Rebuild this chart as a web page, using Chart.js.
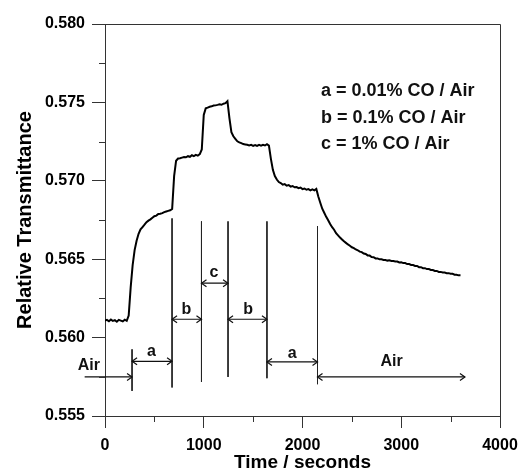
<!DOCTYPE html>
<html>
<head>
    <title>Relative Transmittance vs Time</title>
    <script src="https://cdn.jsdelivr.net/npm/chart.js"></script>
    <style>
        body { margin: 0; background: #fff; }
        #wrap { width: 520px; height: 471px; }
    </style>
</head>
<body>
    <div id="wrap"><canvas id="chart"></canvas></div>

    <script>
        // Data (time in seconds, relative transmittance)
        const time = [
            0, 20, 40, 60, 80, 100, 120, 140, 160, 180, 200, 220, 240, 260, 280, 300, 320, 340, 360, 380,
            400, 420, 440, 460, 480, 500, 520, 540, 560, 580, 600, 620, 640, 660, 680, 700, 720, 740, 760, 780,
            800, 820, 840, 860, 880, 900, 920, 940, 960, 980, 1000, 1020, 1040, 1060, 1080, 1100, 1120, 1140, 1160, 1180,
            1200, 1220, 1240, 1260, 1280, 1300, 1320, 1340, 1360, 1380, 1400, 1420, 1440, 1460, 1480, 1500, 1520, 1540, 1560, 1580,
            1600, 1620, 1640, 1660, 1680, 1700, 1720, 1740, 1760, 1780, 1800, 1820, 1840, 1860, 1880, 1900, 1920, 1940, 1960, 1980,
            2000, 2020, 2040, 2060, 2080, 2100, 2120, 2140, 2160, 2180, 2200, 2220, 2240, 2260, 2280, 2300, 2320, 2340, 2360, 2380,
            2400, 2420, 2440, 2460, 2480, 2500, 2520, 2540, 2560, 2580, 2600, 2620, 2640, 2660, 2680, 2700, 2720, 2740, 2760, 2780,
            2800, 2820, 2840, 2860, 2880, 2900, 2920, 2940, 2960, 2980, 3000, 3020, 3040, 3060, 3080, 3100, 3120, 3140, 3160, 3180,
            3200, 3220, 3240, 3260, 3280, 3300, 3320, 3340, 3360, 3380, 3400, 3420, 3440, 3460, 3480, 3500, 3520, 3540, 3560, 3580,
            3600
        ];
        const transmittance = [
            0.56108, 0.56113, 0.56104, 0.56115, 0.56106, 0.56111, 0.56101, 0.56113, 0.56108, 0.56103, 0.56114, 0.56107, 0.56140, 0.56320, 0.56462, 0.56558, 0.56618, 0.56662, 0.56690, 0.56705,
            0.56720, 0.56736, 0.56746, 0.56754, 0.56764, 0.56774, 0.56778, 0.56788, 0.56790, 0.56794, 0.56800, 0.56804, 0.56808, 0.56812, 0.56820, 0.57030, 0.57128, 0.57142, 0.57144, 0.57148,
            0.57152, 0.57150, 0.57157, 0.57153, 0.57163, 0.57157, 0.57165, 0.57160, 0.57170, 0.57200, 0.57420, 0.57462, 0.57467, 0.57472, 0.57475, 0.57480, 0.57481, 0.57484, 0.57488, 0.57485,
            0.57492, 0.57495, 0.57508, 0.57400, 0.57310, 0.57284, 0.57268, 0.57252, 0.57245, 0.57240, 0.57234, 0.57232, 0.57230, 0.57226, 0.57229, 0.57223, 0.57228, 0.57222, 0.57229, 0.57224,
            0.57229, 0.57225, 0.57233, 0.57224, 0.57140, 0.57070, 0.57030, 0.57008, 0.56992, 0.56986, 0.56975, 0.56979, 0.56969, 0.56973, 0.56963, 0.56967, 0.56959, 0.56960, 0.56953, 0.56957,
            0.56947, 0.56951, 0.56943, 0.56947, 0.56939, 0.56945, 0.56939, 0.56948, 0.56900, 0.56860, 0.56822, 0.56796, 0.56770, 0.56748, 0.56724, 0.56704, 0.56688, 0.56666, 0.56652, 0.56638,
            0.56626, 0.56614, 0.56604, 0.56594, 0.56586, 0.56576, 0.56571, 0.56562, 0.56557, 0.56548, 0.56545, 0.56536, 0.56533, 0.56524, 0.56523, 0.56514, 0.56513, 0.56505, 0.56505, 0.56499,
            0.56499, 0.56495, 0.56495, 0.56491, 0.56493, 0.56489, 0.56489, 0.56485, 0.56485, 0.56479, 0.56481, 0.56475, 0.56475, 0.56469, 0.56469, 0.56463, 0.56463, 0.56457, 0.56457, 0.56449,
            0.56449, 0.56443, 0.56443, 0.56437, 0.56437, 0.56431, 0.56431, 0.56425, 0.56425, 0.56419, 0.56419, 0.56415, 0.56415, 0.56411, 0.56411, 0.56407, 0.56407, 0.56401, 0.56401, 0.56397,
            0.56397
        ];

        // Vertical lines where the gas was switched
        const switchTime = [274, 679, 977, 1246, 1640, 2152];
        const switchTop = [0.55925, 0.56760, 0.56741, 0.56741, 0.56741, 0.56711];
        const switchBottom = [0.55660, 0.55682, 0.55717, 0.55749, 0.55741, 0.55703];

        // Arrows between the switches and their labels
        const arrowFrom = [-206, 274, 679, 977, 1246, 1640, 2152];
        const arrowTo = [274, 679, 977, 1246, 1640, 2152, 3645];
        const arrowLevel = [0.55749, 0.55849, 0.56117, 0.56347, 0.56117, 0.55845, 0.55749];
        const arrowBoth = [false, true, true, true, true, true, true];
        const arrowText = ['Air', 'a', 'b', 'c', 'b', 'a', 'Air'];
        const arrowTextTime = [-163, 470, 825, 1104, 1449, 1895, 2902];
        const arrowTextLevel = [0.55819, 0.55908, 0.56176, 0.56414, 0.56176, 0.55900, 0.55845];

        // Key text
        const keyLines = ['a = 0.01% CO / Air', 'b = 0.1% CO / Air', 'c = 1% CO / Air'];

        // Minor tick positions
        const xMinor = [500, 1500, 2500, 3500];
        const yMinor = [0.5575, 0.5625, 0.5675, 0.5725, 0.5775];

        const fontName = '"Liberation Sans", Arial, sans-serif';
        const axisColor = '#333';

        const curvePoints = time.map((t, i) => ({ x: t, y: transmittance[i] }));

        const switchPoints = [];
        switchTime.forEach((t, i) => {
            switchPoints.push({ x: t, y: switchTop[i] });
            switchPoints.push({ x: t, y: switchBottom[i] });
            switchPoints.push({ x: t, y: null });
        });

        const arrowPoints = [];
        arrowFrom.forEach((t, i) => {
            arrowPoints.push({ x: t, y: arrowLevel[i] });
            arrowPoints.push({ x: arrowTo[i], y: arrowLevel[i] });
            arrowPoints.push({ x: arrowTo[i], y: null });
        });

        // frame on top/right, minor ticks, arrow heads and texts
        const extras = {
            id: 'extras',
            afterDatasetsDraw(chart) {
                const ctx = chart.ctx;
                const xs = chart.scales.x;
                const ys = chart.scales.y;
                const area = chart.chartArea;

                ctx.save();
                ctx.strokeStyle = axisColor;
                ctx.lineWidth = 1;
                ctx.beginPath();
                ctx.moveTo(area.left, area.top + 0.5);
                ctx.lineTo(area.right + 0.5, area.top + 0.5);
                ctx.lineTo(area.right + 0.5, area.bottom);
                ctx.stroke();

                // minor ticks
                ctx.beginPath();
                xMinor.forEach(v => {
                    const px = Math.round(xs.getPixelForValue(v)) + 0.5;
                    ctx.moveTo(px, area.bottom);
                    ctx.lineTo(px, area.bottom + 6);
                });
                yMinor.forEach(v => {
                    const py = Math.round(ys.getPixelForValue(v)) + 0.5;
                    ctx.moveTo(area.left, py);
                    ctx.lineTo(area.left - 6, py);
                });
                ctx.stroke();

                // arrow heads
                ctx.strokeStyle = '#111';
                ctx.lineWidth = 1.2;
                const head = (px, py, dir) => {
                    ctx.beginPath();
                    ctx.moveTo(px - dir * 5, py - 3.5);
                    ctx.lineTo(px, py);
                    ctx.lineTo(px - dir * 5, py + 3.5);
                    ctx.stroke();
                };
                arrowFrom.forEach((t, i) => {
                    const py = ys.getPixelForValue(arrowLevel[i]);
                    head(xs.getPixelForValue(arrowTo[i]), py, 1);
                    if (arrowBoth[i]) head(xs.getPixelForValue(t), py, -1);
                });

                // arrow labels
                ctx.fillStyle = '#111';
                ctx.font = 'bold 16px ' + fontName;
                ctx.textAlign = 'center';
                ctx.textBaseline = 'middle';
                arrowText.forEach((s, i) => {
                    ctx.fillText(s, xs.getPixelForValue(arrowTextTime[i]), ys.getPixelForValue(arrowTextLevel[i]));
                });

                // key
                ctx.font = 'bold 18px ' + fontName;
                ctx.textAlign = 'left';
                keyLines.forEach((s, i) => {
                    ctx.fillText(s, area.left + 216, area.top + 67 + i * 26.7);
                });
                ctx.restore();
            }
        };

        const ctx = document.getElementById('chart').getContext('2d');
        const myChart = new Chart(ctx, {
            type: 'scatter',
            data: {
                datasets: [
                    {
                        label: 'Relative Transmittance',
                        data: curvePoints,
                        showLine: true,
                        borderColor: '#000',
                        borderWidth: 2,
                        pointRadius: 0,
                        tension: 0
                    },
                    {
                        label: 'switch',
                        data: switchPoints,
                        showLine: true,
                        spanGaps: false,
                        borderColor: '#222',
                        borderWidth: 1,
                        pointRadius: 0
                    },
                    {
                        label: 'arrows',
                        data: arrowPoints,
                        showLine: true,
                        spanGaps: false,
                        borderColor: '#111',
                        borderWidth: 1.2,
                        pointRadius: 0,
                        clip: false
                    }
                ]
            },
            options: {
                responsive: true,
                maintainAspectRatio: false,
                animation: false,
                devicePixelRatio: 1,
                layout: { padding: { top: 24, right: 20, left: 0, bottom: 0 } },
                plugins: {
                    legend: { display: false },
                    tooltip: { enabled: false }
                },
                scales: {
                    x: {
                        type: 'linear',
                        min: 0,
                        max: 4000,
                        afterFit: s => {
                            s.height = 55;
                            s.paddingLeft = 0;
                            s.paddingRight = 0;
                        },
                        ticks: {
                            stepSize: 1000,
                            color: '#000',
                            padding: 8,
                            maxRotation: 0,
                            font: { family: fontName, size: 16, weight: 'bold' },
                            callback: v => String(v)
                        },
                        grid: { drawOnChartArea: false, drawTicks: true, tickLength: 12, color: axisColor },
                        border: { display: true, color: axisColor, width: 1 },
                        title: {
                            display: true,
                            text: 'Time / seconds',
                            color: '#000',
                            padding: 0,
                            font: { family: fontName, size: 19, weight: 'bold', lineHeight: 0.85 }
                        }
                    },
                    y: {
                        min: 0.555,
                        max: 0.580,
                        afterFit: s => {
                            s.width = 105;
                            s.paddingTop = 0;
                            s.paddingBottom = 0;
                        },
                        ticks: {
                            stepSize: 0.005,
                            color: '#000',
                            padding: 7,
                            font: { family: fontName, size: 16, weight: 'bold' },
                            callback: v => v.toFixed(3)
                        },
                        grid: { drawOnChartArea: false, drawTicks: true, tickLength: 13, color: axisColor },
                        border: { display: true, color: axisColor, width: 1 },
                        title: {
                            display: true,
                            text: 'Relative Transmittance',
                            color: '#000',
                            padding: { top: 13, bottom: 0 },
                            font: { family: fontName, size: 20, weight: 'bold' }
                        }
                    }
                }
            },
            plugins: [extras]
        });
    </script>
</body>
</html>
